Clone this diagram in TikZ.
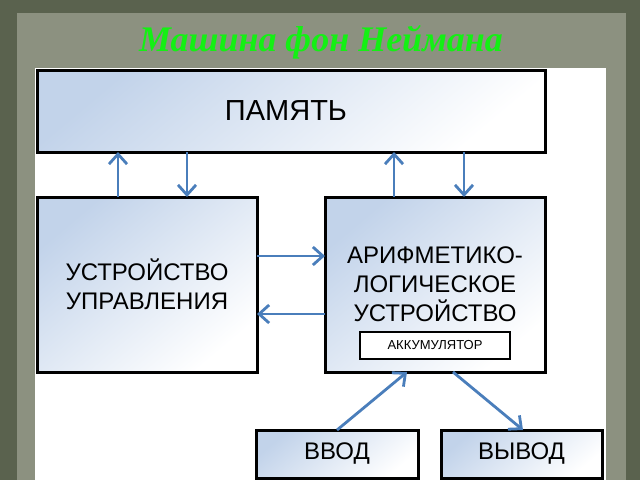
\documentclass[tikz,border=0pt]{standalone}
\usepackage{fontspec}
\setsansfont{Liberation Sans}
\newfontfamily\titlefont{Liberation Serif}
\usetikzlibrary{positioning, arrows.meta}

\definecolor{frame}{HTML}{5A624E}
\definecolor{paper}{HTML}{8C9180}
\definecolor{boxblue}{HTML}{C2D3EA}
\definecolor{linkblue}{HTML}{4A7EBB}
\definecolor{titlegreen}{HTML}{14F014}

\tikzset{
  unit/.style={draw=black, line width=3pt, shading=axis, top color=boxblue,
    middle color=boxblue!25!white, bottom color=white, shading angle=40,
    inner sep=0pt, outer sep=0pt,
    align=center, font=\sffamily\fontsize{24}{29}\selectfont},
  link/.style={draw=linkblue, line width=2.8pt,
    -{Straight Barb[length=10pt, width=18pt]}}
}

\begin{document}
\begin{tikzpicture}[x=1pt, y=-1pt]
\useasboundingbox (0,0) rectangle (640,480);
% background
\fill[frame] (0,0) rectangle (640,480);
\fill[paper] (17,13) rectangle (626,480);
\fill[white] (35,68) rectangle (606,480);

\node[anchor=base, text=titlegreen, font=\titlefont\bfseries\itshape\fontsize{36}{40}\selectfont]
    (title) at (321,51) {Машина фон Неймана};

\node[unit, minimum width=508, minimum height=82,
    font=\sffamily\fontsize{29}{34}\selectfont] (pam) at (291,111)
    {\hspace*{-10pt}ПАМЯТЬ};
\node[unit, minimum width=220, minimum height=175] (uu) at (147,284.5)
    {УСТРОЙСТВО\\УПРАВЛЕНИЯ};
\node[unit, minimum width=220, minimum height=175] (alu) at (435,284.5)
    {АРИФМЕТИКО-\\ЛОГИЧЕСКОЕ\\УСТРОЙСТВО};
\node[draw=black, line width=2.5pt, fill=white, minimum width=150,
    minimum height=27, inner sep=0pt, font=\sffamily\fontsize{13}{15}\selectfont,
    above=12pt of alu.south] (acc) {АККУМУЛЯТОР};
\node[unit, minimum width=162, minimum height=48] (vvod) at (337,454) {ВВОД};
\node[unit, minimum width=161, minimum height=48] (vyvod) at (521.5,454) {ВЫВОД};

% links to memory
\draw[link] ([xshift=-29pt]uu.north) -- ([xshift=-29pt]uu.north |- pam.south);
\draw[link] ([xshift=40pt]uu.north |- pam.south) -- ([xshift=40pt]uu.north);
\draw[link] ([xshift=-41pt]alu.north) -- ([xshift=-41pt]alu.north |- pam.south);
\draw[link] ([xshift=29pt]alu.north |- pam.south) -- ([xshift=29pt]alu.north);
% between units
\draw[link] ([yshift=28.5pt]uu.east) -- ([yshift=28.5pt]uu.east -| alu.west);
\draw[link] ([yshift=-29.5pt]uu.east -| alu.west) -- ([yshift=-29.5pt]uu.east);
% input / output
\draw[link] (vvod.north) -- ([xshift=-28pt]alu.south);
\draw[link] ([xshift=18pt]alu.south) -- ([xshift=1.5pt]vyvod.north);
\end{tikzpicture}
\end{document}
